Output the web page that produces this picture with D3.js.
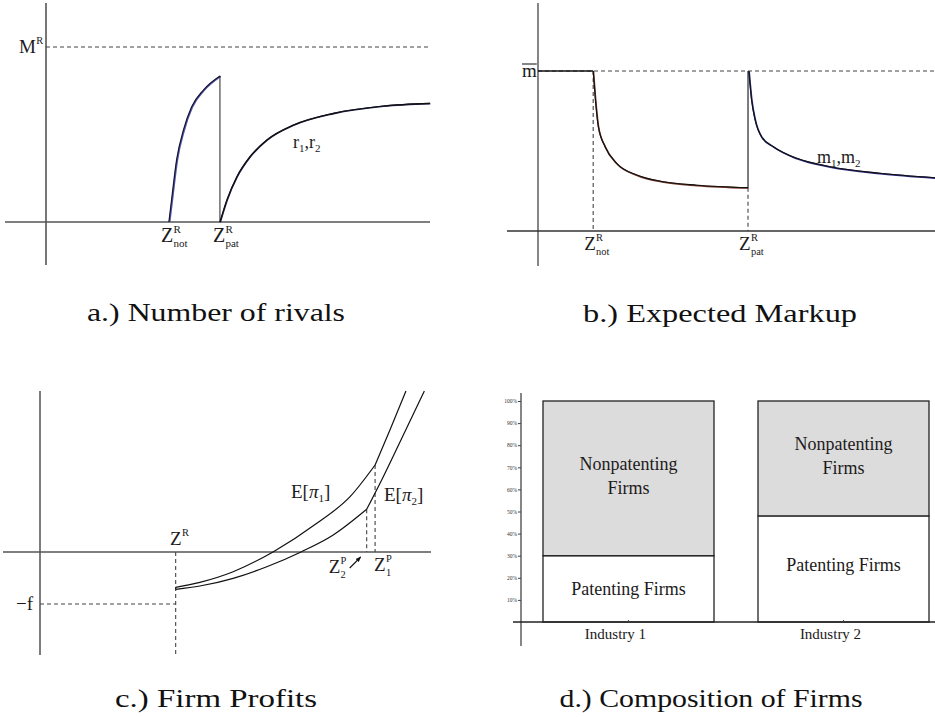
<!DOCTYPE html>
<html>
<head>
<meta charset="utf-8">
<script src="https://cdn.jsdelivr.net/npm/d3@7"></script>
<style>
  html, body { margin: 0; padding: 0; background: #fff; }
  svg { display: block; }
</style>
</head>
<body>
<svg id="fig" width="935" height="717"></svg>
<script>
// ---------- data ----------
// a) number of rivals r1, r2 (share of the rival cap M^R) against Z
const rivalsNotPatenting = [[3.20,0],[3.27,0.126],[3.40,0.354],[3.58,0.526],[3.79,0.657],[4.10,0.754],[4.53,0.834]];
const rivalsPatenting    = [[4.53,0],[4.71,0.126],[4.97,0.259],[5.31,0.373],[5.75,0.469],[6.44,0.554],[7.48,0.621],[8.78,0.663],[10.0,0.678]];
const rivalCap = 1;                       // M^R
const rivalCut = [3.20, 4.53];            // Z^R_not, Z^R_pat

// b) expected markup m1, m2 (share of the monopoly markup m-bar)
const markupFlat          = [[0,1],[1.39,1]];
const markupNotPatenting  = [[1.39,1],[1.44,0.839],[1.52,0.652],[1.69,0.527],[1.98,0.423],[2.49,0.350],[3.16,0.308],[4.00,0.286],[5.29,0.271]];
const markupPatenting     = [[5.31,1],[5.38,0.819],[5.47,0.694],[5.63,0.589],[5.93,0.527],[6.52,0.454],[7.36,0.402],[8.61,0.361],[10.0,0.333]];
const markupCap = 1;                      // m-bar
const markupCut = [1.39, 5.29];           // Z^R_not, Z^R_pat

// c) expected profits E[pi1], E[pi2] (in units of the fixed cost f)
const profitOneLow   = [[3.47,-0.679],[4.09,-0.583],[4.94,-0.379],[5.97,0.006],[7.08,0.551],[7.93,1.064],[8.57,1.673]];
const profitOneHigh  = [[8.57,1.673],[8.95,2.346],[9.36,3.096]];
const profitTwoLow   = [[3.47,-0.717],[4.09,-0.654],[4.94,-0.506],[5.80,-0.283],[6.69,0.006],[7.50,0.327],[8.355,0.821]];
const profitTwoHigh  = [[8.355,0.821],[8.78,1.449],[9.21,2.121],[9.83,3.096]];
const fixedCost = -1;                     // -f
const profitCut = {zR: 3.47, z1P: 8.57, z2P: 8.355};

// d) composition of firms (percent)
const industries        = ["Industry 1", "Industry 2"];
const patentingShare    = [30, 48];
const nonpatentingShare = [70, 52];
const shareTicks        = [10, 20, 30, 40, 50, 60, 70, 80, 90, 100];

// ---------- helpers ----------
const SERIF = "'Liberation Serif', 'Times New Roman', Times, 'DejaVu Serif', serif";
const svg = d3.select("#fig").attr("font-family", SERIF);
svg.append("rect").attr("width", 935).attr("height", 717).attr("fill", "#fff");

const AXIS = "#4a4a4a", DASH = "4,3";
const smooth = d3.curveMonotoneX;

function txt(g, x, y, size) {
  return g.append("text").attr("x", x).attr("y", y)
    .attr("font-family", SERIF).attr("font-size", size).attr("fill", "#1c1a1a");
}
function hline(g, x1, x2, y, dashed, color, w) {
  g.append("line").attr("x1", x1).attr("x2", x2).attr("y1", y).attr("y2", y)
    .attr("stroke", color || AXIS).attr("stroke-width", w || 1.3)
    .attr("stroke-dasharray", dashed ? DASH : null);
}
function vline(g, x, y1, y2, dashed, color, w) {
  g.append("line").attr("x1", x).attr("x2", x).attr("y1", y1).attr("y2", y2)
    .attr("stroke", color || AXIS).attr("stroke-width", w || 1.3)
    .attr("stroke-dasharray", dashed ? DASH : null);
}
function curve(g, pts, xs, ys, color, w, dx, dy) {
  const line = d3.line().x(d => xs(d[0])).y(d => ys(d[1])).curve(smooth);
  return g.append("path").attr("d", line(pts)).attr("fill", "none")
    .attr("stroke", color).attr("stroke-width", w)
    .attr("stroke-linejoin", "round")
    .attr("transform", (dx || dy) ? `translate(${dx || 0},${dy || 0})` : null);
}
// symbol with stacked super/subscripts, e.g. Z^R_not
function sym(g, x, y, base, sup, sub, size) {
  const t = txt(g, x, y, size).text(base);
  const w = t.node().getComputedTextLength();
  const small = size * 0.55;
  if (sup) txt(g, x + w + 0.3, y - size * 0.46, small).text(sup);
  if (sub) txt(g, x + w + 0.3, y + size * 0.24, small).text(sub);
}
function caption(x, y, str, len) {
  txt(svg, x, y, 26).attr("text-anchor", "middle")
    .attr("textLength", len).attr("lengthAdjust", "spacingAndGlyphs")
    .attr("fill", "#111").text(str);
}

// ---------- a) Number of rivals ----------
{
  const g = svg.append("g");
  const x = d3.scaleLinear().domain([0, 10]).range([46, 430]);
  const y = d3.scaleLinear().domain([0, 1]).range([222, 47]);
  vline(g, x(0), 3, 265, false, "#555", 1.6);
  hline(g, 5, x(10), y(0), false, "#555", 1.6);
  hline(g, x(0), x(10), y(rivalCap), true, "#444", 1.1);

  // r2 drawn underneath, r1 on top
  curve(g, rivalsNotPatenting, x, y, "#5558b0", 1.8, 0.7, 0.2);
  curve(g, rivalsNotPatenting, x, y, "#15152e", 1.2);
  const last = rivalsNotPatenting[rivalsNotPatenting.length - 1];
  vline(g, x(last[0]), y(last[1]), y(0), false, "#222", 1.0);
  curve(g, rivalsPatenting, x, y, "#1b1b4a", 1.6, 0.3, 0.3);
  curve(g, rivalsPatenting, x, y, "#111", 1.2);

  sym(g, 19, 53, "M", "R", null, 19);
  sym(g, x(rivalCut[0]) - 8, 242, "Z", "R", "not", 20);
  sym(g, x(rivalCut[1]) - 7, 242, "Z", "R", "pat", 20);
  txt(g, 293, 148, 18)
    .html('r<tspan dy="4" font-size="11">1</tspan><tspan dy="-4">,</tspan>r<tspan dy="4" font-size="11">2</tspan>');
  caption(216, 321, "a.) Number of rivals", 258);
}

// ---------- b) Expected Markup ----------
{
  const g = svg.append("g");
  const x = d3.scaleLinear().domain([0, 10]).range([538, 935]);
  const y = d3.scaleLinear().domain([0, 1]).range([231, 71]);
  vline(g, x(0), 3, 266, false, "#222", 1.1);
  hline(g, 507, x(10), y(0), false, "#333", 1.3);
  hline(g, x(0), x(10), y(markupCap), true, "#444", 1.1);
  vline(g, x(markupCut[0]), y(markupCap), y(0), true, "#444", 1.1);
  const lastNot = markupNotPatenting[markupNotPatenting.length - 1];
  vline(g, x(markupCut[1]), y(lastNot[1]), y(0), true, "#444", 1.1);

  curve(g, markupFlat, x, y, "#111", 1.3);
  curve(g, markupNotPatenting, x, y, "#7a3a2a", 1.6, 0.3, 0.4);
  curve(g, markupNotPatenting, x, y, "#111", 1.2);
  vline(g, x(lastNot[0]), y(lastNot[1]), y(markupCap), false, "#111", 1.1);
  curve(g, markupPatenting, x, y, "#2a2a80", 1.7, 0.3, 0.4);
  curve(g, markupPatenting, x, y, "#111", 1.1);

  // m-bar label
  const mt = txt(g, 522, 77, 19).text("m");
  const mw = mt.node().getComputedTextLength();
  hline(g, 522, 522 + mw, 64, false, "#222", 1.1);

  sym(g, x(markupCut[0]) - 9, 250, "Z", "R", "not", 19);
  sym(g, x(markupCut[1]) - 9, 250, "Z", "R", "pat", 19);
  txt(g, 817, 163, 18)
    .html('m<tspan dy="4" font-size="11">1</tspan><tspan dy="-4">,</tspan>m<tspan dy="4" font-size="11">2</tspan>');
  caption(720, 322, "b.) Expected Markup", 274);
}

// ---------- c) Firm Profits ----------
{
  const g = svg.append("g");
  const x = d3.scaleLinear().domain([0, 10]).range([40, 431]);
  const y = d3.scaleLinear().domain([-1, 0]).range([604, 552]);
  vline(g, x(0), 391, 655, false, "#111", 1.1);
  hline(g, 3, x(10), y(0), false, "#555", 1.6);
  vline(g, x(profitCut.zR), y(0), 655, true, "#444", 1.1);
  hline(g, x(0), x(profitCut.zR), y(fixedCost), true, "#444", 1.1);
  vline(g, x(profitCut.z1P), y(profitOneLow[profitOneLow.length - 1][1]), y(0), true, "#444", 1.1);
  vline(g, x(profitCut.z2P), y(profitTwoLow[profitTwoLow.length - 1][1]), y(0), true, "#444", 1.1);

  [profitOneLow, profitOneHigh, profitTwoLow, profitTwoHigh].forEach(s => curve(g, s, x, y, "#111", 1.2));
  // small join at the left end
  vline(g, x(profitCut.zR), y(profitOneLow[0][1]), y(profitTwoLow[0][1]), false, "#111", 1.0);

  sym(g, 170, 545, "Z", "R", null, 19);
  txt(g, 16, 610, 19).text("\u2212f");
  txt(g, 291, 498, 19)
    .html('E[<tspan font-style="italic">\u03c0</tspan><tspan dy="4" font-size="11">1</tspan><tspan dy="-4">]</tspan>');
  txt(g, 384, 501, 19)
    .html('E[<tspan font-style="italic">\u03c0</tspan><tspan dy="4" font-size="11">2</tspan><tspan dy="-4">]</tspan>');
  sym(g, x(profitCut.z2P) - 38, 573, "Z", "P", "2", 19);
  sym(g, x(profitCut.z1P) - 1, 571, "Z", "P", "1", 19);

  // arrow pointing at Z2^P
  const defs = svg.append("defs");
  defs.append("marker").attr("id", "ah").attr("viewBox", "0 0 10 10").attr("refX", 9).attr("refY", 5)
    .attr("markerWidth", 5).attr("markerHeight", 5).attr("orient", "auto")
    .append("path").attr("d", "M0,1 L10,5 L0,9 Z").attr("fill", "#111");
  const ax = x(profitCut.z2P);
  g.append("line").attr("x1", ax - 17).attr("y1", 568).attr("x2", ax - 6).attr("y2", 557)
    .attr("stroke", "#111").attr("stroke-width", 1.1).attr("marker-end", "url(#ah)");

  caption(216, 707, "c.) Firm Profits", 202);
}

// ---------- d) Composition of Firms ----------
{
  const g = svg.append("g");
  const x = d3.scaleBand().domain(industries).range([543, 929]).paddingInner(0.2047).paddingOuter(0);
  const y = d3.scaleLinear().domain([0, 100]).range([622, 401]);
  const rows = industries.map((k, i) => ({ industry: k, patenting: patentingShare[i], nonpatenting: nonpatentingShare[i] }));
  const stacked = d3.stack().keys(["patenting", "nonpatenting"])(rows);
  const fills = { patenting: "#ffffff", nonpatenting: "#dcdcdc" };

  stacked.forEach(layer => {
    g.selectAll(null).data(layer).join("rect")
      .attr("x", d => x(d.data.industry))
      .attr("width", x.bandwidth())
      .attr("y", d => y(d[1]))
      .attr("height", d => y(d[0]) - y(d[1]))
      .attr("fill", fills[layer.key])
      .attr("stroke", "#222").attr("stroke-width", 1.3);
  });

  // axes
  const yAxis = g.append("g").attr("transform", "translate(521,0)")
    .call(d3.axisLeft(y).tickValues(shareTicks).tickFormat(d => d + "%").tickSize(3).tickPadding(1));
  yAxis.attr("font-family", SERIF).attr("font-size", 5.5);
  yAxis.select(".domain").remove();
  yAxis.selectAll(".tick line").attr("stroke", "#444");
  yAxis.selectAll("text").attr("fill", "#333");
  vline(g, 521, 393, 646, false, "#444", 1.3);
  hline(g, 513, 935, y(0), false, "#222", 1.4);
  // small tick at each bar centre
  industries.forEach(k => vline(g, x(k) + x.bandwidth() / 2, y(0) - 2, y(0), false, "#444", 1));

  // labels
  const cx = k => x(k) + x.bandwidth() / 2;
  const nonLabelY = [470, 450], patLabelY = [595, 571];
  industries.forEach((k, i) => {
    txt(g, cx(k), nonLabelY[i], 18).attr("text-anchor", "middle").text("Nonpatenting");
    txt(g, cx(k), nonLabelY[i] + 24, 18).attr("text-anchor", "middle").text("Firms");
    txt(g, cx(k), patLabelY[i], 18).attr("text-anchor", "middle").text("Patenting Firms");
    txt(g, cx(k) - 13, 639, 15).attr("text-anchor", "middle").text(k);
  });

  caption(711, 707, "d.) Composition of Firms", 303);
}
</script>
</body>
</html>
